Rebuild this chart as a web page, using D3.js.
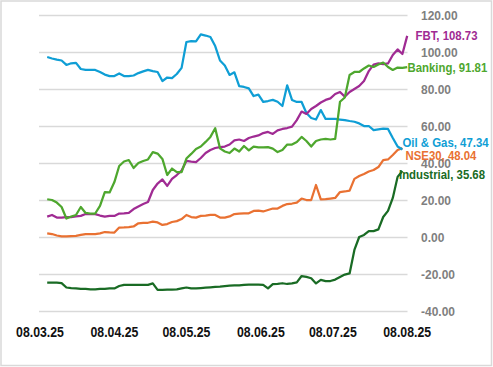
<!DOCTYPE html>
<html>
<head>
<meta charset="utf-8">
<script src="https://cdn.jsdelivr.net/npm/d3@7"></script>
<style>
  body { margin: 0; background: #fff; }
  svg { display: block; }
</style>
</head>
<body>
<div id="chart"></div>
<script>
// sampled every second day, 11.03.25 - 08.08.25
const dates = [
  "2025-03-11","2025-03-13","2025-03-15","2025-03-17","2025-03-19","2025-03-21","2025-03-23","2025-03-25","2025-03-27","2025-03-29","2025-03-31",
  "2025-04-02","2025-04-04","2025-04-06","2025-04-08","2025-04-10","2025-04-12","2025-04-14","2025-04-16","2025-04-18","2025-04-20","2025-04-22","2025-04-24","2025-04-26","2025-04-28","2025-04-30",
  "2025-05-02","2025-05-04","2025-05-06","2025-05-08","2025-05-10","2025-05-12","2025-05-14","2025-05-16","2025-05-18","2025-05-20","2025-05-22","2025-05-24","2025-05-26","2025-05-28","2025-05-30",
  "2025-06-01","2025-06-03","2025-06-05","2025-06-07","2025-06-09","2025-06-11","2025-06-13","2025-06-15","2025-06-17","2025-06-19","2025-06-21","2025-06-23","2025-06-25","2025-06-27","2025-06-29",
  "2025-07-01","2025-07-03","2025-07-05","2025-07-07","2025-07-09","2025-07-11","2025-07-13","2025-07-15","2025-07-17","2025-07-19","2025-07-21","2025-07-23","2025-07-25","2025-07-27","2025-07-29","2025-07-31",
  "2025-08-02","2025-08-04","2025-08-06","2025-08-08"
];

const fbt = [
  11.0, 11.9, 10.5, 10.5, 10.8, 10.8, 11.1, 11.4, 12.4, 12.4, 12.4,
  11.6, 11.0, 11.4, 11.4, 12.7, 12.8, 13.0, 15.1, 16.5, 17.8, 18.9, 25.4, 28.9, 31.1, 27.6,
  31.4, 33.5, 35.9, 41.1, 40.7, 40.5, 42.7, 45.4, 47.0, 48.1, 48.6, 48.9, 50.0, 52.2, 52.7,
  51.9, 53.5, 54.3, 54.9, 56.2, 56.8, 55.7, 57.6, 58.4, 58.9, 59.7, 63.2, 67.8, 66.5, 69.2,
  70.8, 72.7, 74.1, 74.9, 77.3, 78.4, 75.9, 78.4, 80.0, 81.6, 84.3, 89.7, 93.2, 93.8, 93.5, 93.8,
  98.4, 101.4, 98.9, 108.73
];

const banking = [
  20.4, 20.0, 18.6, 16.2, 10.0, 11.1, 11.9, 16.2, 13.0, 12.7, 12.7,
  16.8, 24.3, 24.1, 29.7, 38.4, 40.8, 41.6, 37.3, 40.0, 41.1, 41.9, 45.9, 45.1, 42.2, 33.5,
  37.0, 35.1, 35.1, 42.4, 44.9, 47.6, 48.9, 51.4, 54.1, 58.8, 47.9, 46.2, 45.4, 47.8, 46.2,
  49.2, 46.8, 48.9, 48.4, 48.4, 48.6, 47.8, 45.9, 47.0, 50.0, 50.0, 51.4, 54.1, 51.9, 48.9,
  51.9, 52.7, 53.0, 52.7, 53.0, 73.1, 75.4, 87.6, 89.2, 89.2, 91.1, 92.7, 91.9, 93.2, 94.3, 91.9,
  90.3, 91.6, 91.4, 91.81
];

const oilGas = [
  97.3, 96.5, 95.9, 95.4, 93.0, 93.9, 94.1, 90.8, 90.3, 90.3, 90.3,
  89.2, 87.8, 87.0, 87.0, 88.4, 87.0, 87.0, 87.3, 88.6, 89.5, 90.3, 89.7, 89.2, 84.3, 86.2,
  85.9, 88.1, 91.4, 105.4, 105.9, 105.7, 109.5, 108.9, 108.1, 103.2, 95.4, 92.7, 87.6, 89.0, 81.5,
  81.1, 80.3, 76.2, 77.0, 73.0, 73.5, 74.1, 73.1, 70.8, 82.0, 74.1, 73.0, 73.0, 67.0, 64.3,
  63.5, 68.6, 63.8, 63.8, 63.8, 63.5, 63.2, 62.7, 62.3, 61.4, 60.0, 60.0, 57.8, 58.2, 58.6, 58.4,
  53.5, 48.9, 47.34, null
];

const nse30 = [
  2.0, 1.6, 0.8, 0.3, 0.3, 0.5, 0.6, 1.1, 1.6, 1.5, 1.6,
  2.0, 2.7, 2.5, 2.4, 5.1, 5.2, 5.4, 5.7, 7.4, 7.6, 7.7, 8.3, 7.9, 6.5, 7.0,
  8.1, 8.6, 9.7, 11.9, 10.8, 10.5, 11.4, 11.6, 11.9, 11.9, 10.5, 10.5, 11.1, 12.4, 12.6,
  12.8, 12.8, 14.1, 14.3, 13.8, 14.6, 15.4, 15.4, 16.8, 17.8, 18.1, 18.6, 20.8, 20.0, 20.0,
  28.1, 20.3, 20.5, 20.8, 21.1, 24.3, 24.6, 25.1, 31.4, 33.0, 34.1, 35.4, 36.2, 37.8, 41.6, 41.9,
  44.3, 47.0, 48.04, null
];

const industrial = [
  -24.7, -24.7, -24.7, -24.9, -27.3, -27.6, -27.8, -28.1, -28.1, -28.3, -28.3,
  -28.1, -28.1, -27.8, -27.8, -26.5, -25.9, -25.9, -25.9, -25.9, -25.9, -25.9, -25.1, -28.6, -28.6, -28.5,
  -28.4, -28.3, -27.8, -27.3, -27.8, -27.8, -27.6, -27.4, -27.2, -27.0, -26.8, -26.5, -26.3, -26.2, -26.2,
  -25.9, -25.7, -25.7, -25.8, -25.9, -27.8, -25.5, -25.3, -25.0, -25.4, -25.1, -24.5, -21.1, -21.6, -22.3,
  -25.1, -23.2, -23.8, -23.8, -23.0, -21.6, -20.3, -19.7, -7.0, 0.0, 1.1, 3.2, 3.2, 4.1, 10.8, 14.1,
  21.1, 32.5, 35.68, null
];

const seriesNames = ["NSE30", "Oil & Gas", "FBT", "Banking", "Industrial"];
const seriesValues = [nse30, oilGas, fbt, banking, industrial];
const seriesColors = ["#E97132", "#0F9ED5", "#A02B93", "#4EA72E", "#196B24"];

const xTicks = ["2025-03-08", "2025-04-08", "2025-05-08", "2025-06-08", "2025-07-08", "2025-08-08"];
const yTicks = [-40, -20, 0, 20, 40, 60, 80, 100, 120];

// label anchors (left x, middle y) as placed in the original
const labelPos = [[405.5, 155], [402.5, 142.5], [415.5, 35], [407.5, 67.5], [399, 174.5]];

const W = 493, H = 367;
const parse = d3.timeParse("%Y-%m-%d");
const days = dates.map(parse);

const x = d3.scaleTime()
  .domain([parse(xTicks[0]), parse(xTicks[xTicks.length - 1])])
  .range([40, 407.2]);

const y = d3.scaleLinear()
  .domain([-40, 120])
  .range([311, 15]);

const svg = d3.select("#chart").append("svg")
  .attr("width", W)
  .attr("height", H);

svg.append("rect")
  .attr("x", 1).attr("y", 1)
  .attr("width", W - 2.5).attr("height", H - 2.5)
  .attr("fill", "#fff")
  .attr("stroke", "#d9d9d9")
  .attr("stroke-width", 1.5);

// gridlines
svg.append("g")
  .attr("transform", "translate(39,0)")
  .call(d3.axisLeft(y).tickValues(yTicks).tickSize(-368.5).tickFormat(""))
  .call(g => g.select(".domain").remove())
  .call(g => g.selectAll("line").attr("stroke", "#d9d9d9").attr("stroke-width", 1.5));

// y labels on the right
svg.append("g")
  .selectAll("text")
  .data(yTicks)
  .join("text")
  .attr("transform", d => `translate(421,${y(d)}) scale(1,1.1)`)
  .attr("dy", "0.36em")
  .attr("font-family", "'Liberation Sans', Arial, sans-serif")
  .attr("font-size", 12)
  .attr("font-weight", "bold")
  .attr("fill", "#7f7f7f")
  .text(d => d.toFixed(2));

// x labels
const fmt = d3.timeFormat("%d.%m.%y");
svg.append("g")
  .selectAll("text")
  .data(xTicks.map(parse))
  .join("text")
  .attr("transform", d => `translate(${x(d)},332) scale(1,1.15)`)
  .attr("dy", "0.36em")
  .attr("text-anchor", "middle")
  .attr("font-family", "'Liberation Sans', Arial, sans-serif")
  .attr("font-size", 12.3)
  .attr("font-weight", "bold")
  .attr("fill", "#111")
  .text(d => fmt(d));

const line = d3.line()
  .defined(d => d[1] != null)
  .x(d => x(d[0]))
  .y(d => y(d[1]));

seriesValues.forEach((vals, i) => {
  svg.append("path")
    .datum(days.map((d, j) => [d, vals[j]]))
    .attr("fill", "none")
    .attr("stroke", seriesColors[i])
    .attr("stroke-width", 2.25)
    .attr("stroke-linejoin", "round")
    .attr("d", line);
});

// end labels
seriesValues.forEach((vals, i) => {
  let last = vals.filter(v => v != null).pop();
  svg.append("text")
    .attr("transform", `translate(${labelPos[i][0]},${labelPos[i][1]}) scale(1,1.15)`)
    .attr("dy", "0.36em")
    .attr("font-family", "'Liberation Sans', Arial, sans-serif")
    .attr("font-size", 11.4)
    .attr("font-weight", "bold")
    .attr("fill", seriesColors[i])
    .text(seriesNames[i] + ", " + last.toFixed(2));
});
</script>
</body>
</html>
